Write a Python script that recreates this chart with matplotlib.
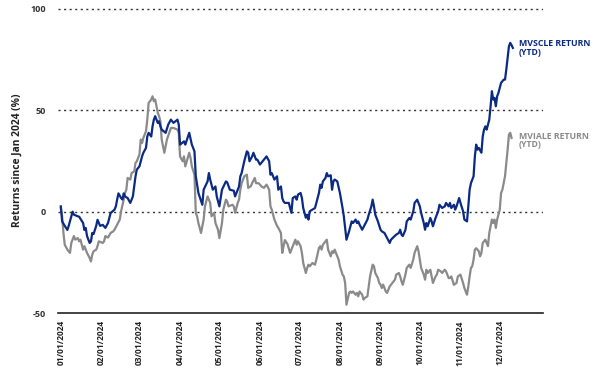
import matplotlib
matplotlib.use("Agg")
import matplotlib.pyplot as plt
import matplotlib.dates as mdates
import numpy as np

plt.rcParams['font.family'] = ['Open Sans', 'DejaVu Sans']

# days since 01/01/2024 and YTD return (%)
mvscle_days = [0, 1, 3, 5, 6, 9, 10, 13, 14, 17, 18, 19, 20, 22, 23, 24, 25, 27, 28, 30,
               32, 34, 36, 38, 41, 42, 43, 44, 46, 47, 48, 49, 51, 53, 55, 56, 57, 58, 60, 61,
               62, 63, 65, 66, 67, 69, 70, 71, 72, 74, 75, 76, 77, 80, 82, 84, 86, 89, 90, 91,
               94, 95, 98, 100, 102, 103, 105, 108, 109, 112, 113, 114, 116, 118, 119, 121, 123, 126, 127, 129,
               132, 133, 135, 136, 137, 138, 140, 142, 143, 144, 146, 147, 149, 150, 152, 155, 157, 159, 160, 161,
               163, 165, 166, 168, 169, 170, 171, 174, 176, 177, 179, 180, 181, 183, 184, 185, 187, 188, 189, 190,
               192, 194, 195, 197, 198, 199, 200, 202, 203, 204, 206, 207, 208, 209, 211, 213, 215, 216, 217, 218,
               220, 221, 222, 223, 225, 226, 227, 228, 230, 232, 234, 235, 237, 238, 239, 240, 242, 244, 245, 247,
               249, 251, 252, 254, 256, 258, 259, 260, 261, 263, 264, 266, 267, 269, 270, 272, 273, 274, 275, 277,
               278, 279, 280, 282, 283, 284, 286, 287, 288, 289, 291, 293, 294, 296, 297, 298, 300, 301, 302, 304,
               305, 307, 308, 310, 311, 312, 313, 315, 316, 317, 318, 319, 321, 322, 323, 324, 325, 327, 328, 329,
               330, 331, 332, 333, 334, 336, 338, 339, 340, 341, 342, 343, 344, 345]
mvscle_vals = [2.6, -4.8, -7, -9, -7, 0, -1.5, -2.3, -2.5, -5.6, -9, -8, -12, -15.4, -14.6, -10.5, -11, -7, -4, -7,
               -6.5, -8, -5.6, -0.7, 1, 2.6, 6, 9, 6.7, 6, 9, 7.5, 6.7, 4.3, 7.5, 12.5, 17.4, 20.7, 22.3, 24.8,
               27.2, 29, 31.4, 37, 38.8, 37, 42, 45.3, 47, 43.7, 44.5, 42, 40.4, 38.8, 42.9, 45.3, 43.7, 45.3, 42.9, 33,
               34.6, 33, 38.8, 33, 29.7, 17.4, 9.2, 3.4, 10.8, 14.9, 19, 15.8, 10.8, 12.4, 7.5, 2.6, 10.8, 14.9, 14.4, 10.8,
               10.3, 7.5, 10.8, 12.4, 17.4, 19, 24.8, 29.7, 29, 24.8, 27.2, 29, 25.6, 25.6, 23.2, 25.6, 27.2, 24.8, 18.2, 19,
               15.8, 17.4, 10.8, 12.4, 6.7, 5, 4.3, 4.3, -0.6, 6.7, 7.5, 5.9, 8.4, 9.2, 6.7, 1.8, -3, -1.5, -3.9, 0.2,
               1, 1.8, 4.3, 9.2, 13.3, 11.7, 14.9, 16.6, 19, 17.4, 17.9, 10.8, 14.9, 15.8, 14.9, 9.2, 1.8, -2.3, -8, -13.8,
               -9.7, -7.2, -4.8, -5.6, -3.9, -5.6, -4.8, -6.4, -8.9, -6.4, -3.9, -1.5, 2.6, 5.9, 2.6, -1.5, -4.8, -8.9, -9.7, -10.5,
               -13, -15.4, -13.8, -12.5, -11.3, -10.5, -8.9, -11.3, -12, -9, -4.8, -3.1, -3.9, 0.2, 4.3, 5.9, 4.3, 2.6, -0.6, -5.6,
               -8.9, -5.6, -7.2, -3.1, -4.8, -7.2, -3.1, -1.5, 0.2, 3.4, 1.8, 2.6, 4.3, 2.6, 4.3, 1.8, 3.4, 1, 2.6, 6.7,
               4.3, 0.2, -3.9, -4.8, 2.6, 10.8, 14, 17.4, 27.2, 33, 30.5, 31.4, 29, 37, 40.4, 42, 40.4, 45.3, 51.9, 59.3,
               55.2, 56, 51.9, 56.8, 58.5, 63.4, 65, 65, 70, 75.7, 81.4, 83.1, 82, 80.6]

mviale_days = [0, 1, 2, 3, 5, 7, 8, 10, 11, 13, 14, 15, 17, 18, 20, 22, 23, 24, 25, 27,
               28, 29, 32, 33, 34, 36, 38, 40, 41, 43, 45, 46, 48, 49, 50, 51, 53, 54, 56, 57,
               58, 60, 61, 62, 63, 65, 66, 67, 69, 70, 71, 72, 74, 75, 76, 77, 79, 80, 81, 84,
               86, 89, 90, 91, 93, 94, 95, 98, 99, 100, 102, 103, 104, 105, 107, 109, 110, 112, 114, 115,
               117, 118, 120, 121, 123, 124, 126, 127, 128, 131, 132, 133, 135, 136, 137, 138, 140, 142, 143, 145,
               146, 148, 149, 151, 153, 155, 157, 159, 160, 161, 163, 165, 166, 168, 169, 170, 171, 173, 175, 177,
               178, 179, 180, 181, 183, 184, 185, 187, 188, 189, 190, 192, 194, 195, 197, 198, 199, 200, 202, 203,
               204, 206, 207, 208, 209, 211, 212, 213, 215, 216, 217, 218, 220, 221, 222, 223, 225, 226, 227, 228,
               230, 231, 232, 234, 235, 236, 238, 239, 240, 242, 243, 244, 245, 246, 248, 249, 250, 251, 253, 254,
               255, 256, 258, 259, 260, 261, 263, 264, 266, 267, 269, 270, 272, 273, 274, 275, 277, 278, 279, 280,
               282, 283, 284, 286, 287, 288, 290, 291, 293, 294, 296, 297, 298, 300, 302, 303, 305, 307, 308, 310,
               311, 312, 313, 314, 315, 316, 317, 319, 320, 321, 322, 324, 325, 326, 327, 329, 330, 331, 332, 333,
               335, 336, 337, 339, 340, 341, 342, 343, 344]
mviale_vals = [1.8, -2.3, -10.5, -16.3, -18.7, -20.3, -15.4, -12, -13.8, -13, -14.6, -13.8, -18.7, -17, -20.3, -22.8, -24.5, -21.2, -19.5, -18.7,
               -17, -14.6, -15.4, -14.6, -12, -12.8, -10.5, -9.7, -8.9, -6.4, -3.9, 0.2, 5.9, 9.2, 10.8, 16.6, 15.8, 19, 19.8, 24,
               24.8, 28.1, 35.5, 33.8, 36.3, 39.6, 45.3, 53.5, 55.2, 56.8, 54.4, 55.2, 48.6, 47, 44.5, 35.5, 29, 32.2, 35.5, 41.2,
               41.2, 40.4, 38.8, 27.2, 24.8, 27.2, 22.3, 29, 26.5, 22.3, 18.2, -0.6, -2.3, -5.6, -10.5, -3.9, 2.6, 7.5, 4.3, -2.3,
               -0.6, -5.6, -8.9, -13, -5.6, 1, 5.9, 5, 2.6, 3.4, 2.6, -0.6, 4.3, 5.9, 10.8, 14, 17.4, 18.2, 11.7, 12.5,
               14, 16.6, 14, 14, 12.5, 11.7, 13.3, 10.8, 2.6, 1, -3.9, -7, -8, -10.5, -20.3, -17, -14, -16, -20.3, -17,
               -15.4, -13.8, -16.3, -14.6, -17, -20.3, -25.3, -30.2, -27.7, -26.1, -26.9, -25.3, -26.1, -23.6, -17.9, -17, -18.7, -16.3, -14.6, -13.8,
               -18.7, -22, -19.5, -20.3, -18.7, -22, -23.6, -26.9, -31, -31.9, -35.1, -45.8, -40, -39.3, -40, -39.3, -40.9, -40, -41.7, -39.3,
               -40.9, -43.3, -42.5, -41.7, -36.8, -31.9, -26.1, -26.9, -30.2, -32.7, -35.1, -35.9, -37.6, -35.9, -39.3, -40, -38.4, -36.8, -35.1, -34.3,
               -33.5, -31, -30.2, -31.9, -34.3, -36, -31, -27.7, -26.1, -27.7, -23.6, -20.3, -17, -19.5, -23.6, -27.7, -31, -33.5, -28.6, -30.2,
               -28.6, -31.9, -35.1, -31.9, -31, -28.6, -29.4, -30.2, -28.6, -29.4, -32.7, -32.7, -31.9, -36, -35.1, -31.9, -31, -35.1, -37.6, -40.9,
               -36.8, -31.9, -27.7, -26.9, -23.6, -18.7, -18, -19.5, -22, -20.3, -15.4, -13.8, -15.4, -17, -10.5, -3.9, -5.6, -3.9, -8, -3.9,
               1, 9.2, 10.8, 17.4, 24, 30.5, 37.9, 38.8, 36.3]

month_ticks = ["2024-%02d-01" % m for m in range(1, 13)]
y_ticks = [-50, 0, 50, 100]

start = np.datetime64("2024-01-01")
x_scle = start + np.array(mvscle_days).astype("timedelta64[D]")
x_iale = start + np.array(mviale_days).astype("timedelta64[D]")

navy = "#0b2a84"
grey = "#8a8a8a"

fig = plt.figure(figsize=(6, 3.76), dpi=100)
ax = fig.add_axes([0.097, 0.167, 0.808, 0.813])

ax.plot(x_iale, mviale_vals, color=grey, lw=1.6, zorder=2)
ax.plot(x_scle, mvscle_vals, color=navy, lw=1.6, zorder=3)

ax.set_ylim(-50, 100.5)
ax.set_xlim(np.datetime64("2023-12-30"), np.datetime64("2025-01-03"))

for v in y_ticks[1:]:
    ax.axhline(v, color="#333333", lw=1.0, ls=(0, (1.5, 2.5)), zorder=1)

for s in ["top", "right", "left"]:
    ax.spines[s].set_visible(False)
ax.spines["bottom"].set_color("#222222")
ax.spines["bottom"].set_linewidth(1.2)

ax.set_yticks(y_ticks)
ax.set_yticklabels([str(v) for v in y_ticks], fontsize=6.5, fontweight="bold", color="#333333")
ax.tick_params(axis="y", length=0, pad=9)

ax.set_xticks([np.datetime64(d) for d in month_ticks])
ax.xaxis.set_major_formatter(mdates.DateFormatter("%m/%d/%Y"))
ax.tick_params(axis="x", length=0, pad=5, labelsize=6, labelcolor="#222222")
for lab in ax.get_xticklabels():
    lab.set_rotation(90)
    lab.set_fontweight("bold")

ax.set_ylabel("Returns since Jan 2024 (%)", fontsize=7.4, fontweight="bold",
              color="#222222", labelpad=5)

ax.text(0.865, 0.895, "MVSCLE RETURN\n(YTD)", transform=fig.transFigure,
        fontsize=6.3, fontweight="bold", color=navy, va="top", ha="left",
        linespacing=0.95)
ax.text(0.865, 0.65, "MVIALE RETURN\n(YTD)", transform=fig.transFigure,
        fontsize=6.3, fontweight="bold", color=grey, va="top", ha="left",
        linespacing=0.95)

fig.savefig("out.png", dpi=100)
